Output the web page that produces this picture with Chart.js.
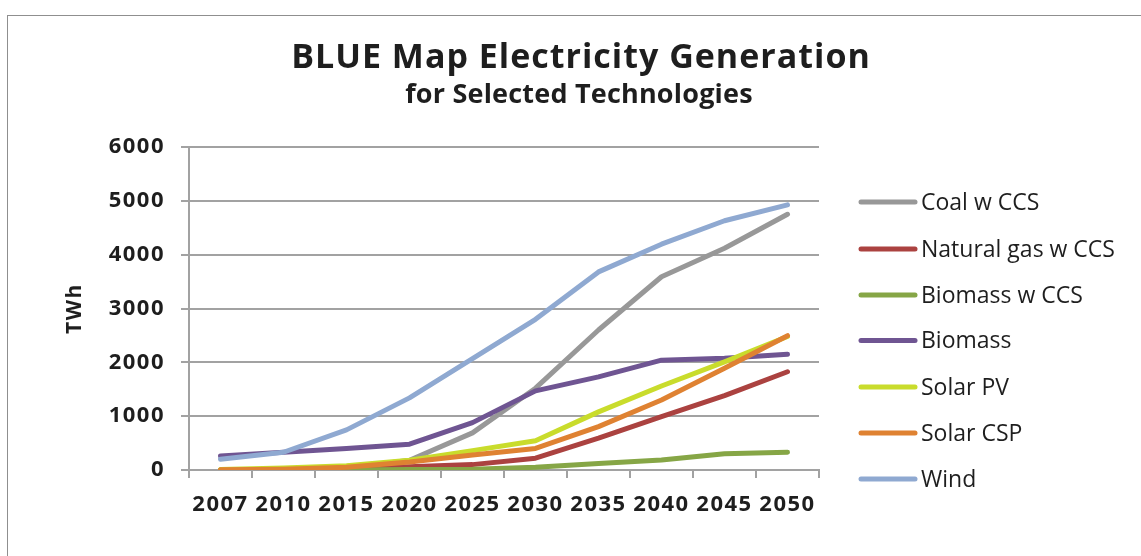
<!DOCTYPE html>
<html>
<head>
<meta charset="utf-8">
<script src="https://cdn.jsdelivr.net/npm/chart.js@4.4.1/dist/chart.umd.min.js"></script>
<style>
  html, body { margin: 0; padding: 0; background: #ffffff; overflow: hidden; }
  #wrap { position: absolute; left: 0; top: 0; width: 1141px; height: 556px; }
  #frame { position: absolute; left: 7px; top: 15px; width: 1200px; height: 600px; border: 1px solid #8f8f8f; box-sizing: border-box; }
  canvas { position: absolute; left: 0; top: 0; }
</style>
</head>
<body>
<div id="wrap">
  <div id="frame"></div>
  <canvas id="c" width="1141" height="556"></canvas>
</div>
<script>
const years = ["2007", "2010", "2015", "2020", "2025", "2030", "2035", "2040", "2045", "2050"];
const yTicks = [0, 1000, 2000, 3000, 4000, 5000, 6000];
const seriesNames = ["Coal w CCS", "Natural gas w CCS", "Biomass w CCS", "Biomass", "Solar PV", "Solar CSP", "Wind"];
const coalCCS    = [0, 0, 30, 180, 690, 1520, 2600, 3590, 4120, 4750];
const gasCCS     = [0, 0, 20, 60, 100, 220, 590, 990, 1380, 1825];
const biomassCCS = [0, 0, 0, 10, 15, 50, 120, 185, 300, 330];
const biomass    = [260, 330, 400, 480, 880, 1470, 1730, 2040, 2075, 2150];
const solarPV    = [10, 35, 80, 180, 360, 545, 1080, 1560, 2010, 2480];
const solarCSP   = [5, 15, 50, 150, 280, 400, 805, 1300, 1890, 2495];
const wind       = [200, 330, 745, 1340, 2070, 2800, 3680, 4195, 4630, 4925];
const seriesColors = ["#989898", "#ab4240", "#86a646", "#6f5592", "#c9dc2c", "#df8232", "#8fa9d1"];

const seriesValues = [coalCCS, gasCCS, biomassCCS, biomass, solarPV, solarCSP, wind];
const datasets = seriesNames.map((name, i) => ({
  label: name,
  data: seriesValues[i],
  borderColor: seriesColors[i],
  backgroundColor: seriesColors[i],
  borderWidth: 5,
  pointRadius: 0,
  pointHoverRadius: 0,
  tension: 0,
  fill: false,
  borderCapStyle: 'round',
  borderJoinStyle: 'round',
  order: seriesNames.length - i
}));

const TXT = '#1e1e1e';
const GRID = '#a2a2a2';

const spacing = {
  id: 'spacing',
  beforeDraw(chart) { chart.ctx.letterSpacing = '1.5px'; }
};

const decor = {
  id: 'decor',
  afterDraw(chart) {
    const ctx = chart.ctx;
    ctx.save();
    ctx.fillStyle = TXT;
    ctx.textAlign = 'center';
    ctx.textBaseline = 'alphabetic';
    ctx.letterSpacing = '1px';
    ctx.font = 'bold 34px "Open Sans"';
    ctx.fillText('BLUE Map Electricity Generation', 581, 68);
    ctx.letterSpacing = '0.2px';
    ctx.font = 'bold 27px "Open Sans"';
    ctx.fillText('for Selected Technologies', 579, 103);
    // legend
    ctx.letterSpacing = '0px';
    const ys = [202, 249, 295, 340.5, 387, 433, 479];
    chart.data.datasets.forEach((ds, i) => {
      const y = ys[i];
      ctx.strokeStyle = ds.borderColor;
      ctx.lineWidth = 5;
      ctx.lineCap = 'round';
      ctx.beginPath();
      ctx.moveTo(861, y);
      ctx.lineTo(915, y);
      ctx.stroke();
      ctx.fillStyle = TXT;
      ctx.textAlign = 'left';
      ctx.textBaseline = 'middle';
      ctx.font = '23px "Open Sans"';
      ctx.fillText(ds.label, 921, y + 1);
    });
    ctx.restore();
  }
};

new Chart(document.getElementById('c'), {
  type: 'line',
  data: { labels: years, datasets: datasets },
  options: {
    responsive: false,
    animation: false,
    events: [],
    layout: { padding: { left: 62, right: 322, top: 147, bottom: 20 } },
    plugins: {
      legend: { display: false },
      title: { display: false },
      tooltip: { enabled: false }
    },
    scales: {
      x: {
        type: 'category',
        offset: true,
        grid: { offset: true, drawOnChartArea: false, drawTicks: true, tickLength: 8, color: GRID, lineWidth: 2 },
        border: { display: true, color: GRID, width: 2 },
        ticks: { color: TXT, font: { family: 'Open Sans', weight: 'bold', size: 22 }, padding: 14, maxRotation: 0, autoSkip: false },
        afterFit(scale) { scale.height = 66; }
      },
      y: {
        min: 0, max: 6000,
        afterBuildTicks(scale) { scale.ticks = yTicks.map(v => ({ value: v })); },
        grid: { color: GRID, lineWidth: 2, drawTicks: true, tickLength: 8 },
        border: { display: true, color: GRID, width: 2 },
        ticks: { color: TXT, font: { family: 'Open Sans', weight: 'bold', size: 22 }, padding: 16, callback: v => String(v) },
        title: { display: true, text: 'TWh', color: TXT, font: { family: 'Open Sans', weight: 'bold', size: 21 }, padding: { top: 0, bottom: 0 } },
        afterFit(scale) { scale.width = 127; }
      }
    }
  },
  plugins: [spacing, decor]
});
</script>
</body>
</html>
